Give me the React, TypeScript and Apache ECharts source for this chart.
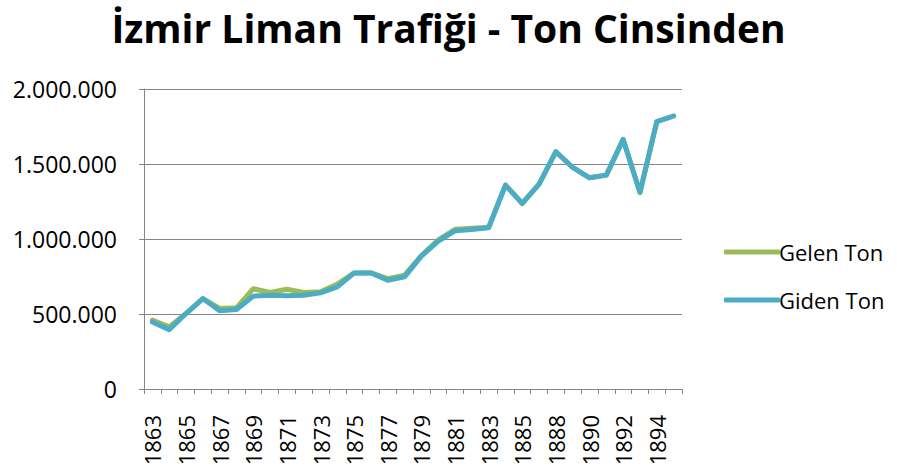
import React, { useEffect, useRef } from "react";
import * as echarts from "echarts";

const years: string[] = [
  "1863", "1864", "1865", "1866", "1867", "1868", "1869", "1870", "1871", "1872",
  "1873", "1874", "1875", "1876", "1877", "1878", "1879", "1880", "1881", "1882",
  "1883", "1884", "1885", "1886", "1888", "1889", "1890", "1891", "1892", "1893",
  "1894", "1895",
];

const gelenTon: number[] = [
  459000, 414000, 503000, 603000, 537000, 541000, 669000, 643000, 665000, 643000,
  648000, 699000, 774000, 774000, 736000, 759000, 890000, 995000, 1065000, 1072000,
  1078000, 1359000, 1237000, 1366000, 1582000, 1477000, 1408000, 1426000, 1664000, 1310000,
  1782000, 1820000,
];

const gidenTon: number[] = [
  447000, 396000, 503000, 603000, 521000, 530000, 619000, 625000, 621000, 625000,
  641000, 681000, 774000, 774000, 725000, 748000, 886000, 986000, 1055000, 1063000,
  1075000, 1359000, 1237000, 1366000, 1582000, 1477000, 1408000, 1426000, 1664000, 1310000,
  1782000, 1820000,
];

const yTicks = { min: 0, max: 2000000, interval: 500000 };

const fmt = (v: number) => String(Math.round(v)).replace(/\B(?=(\d{3})+(?!\d))/g, ".");

export default function App() {
  const ref = useRef<HTMLDivElement>(null);
  useEffect(() => {
    if (!ref.current) return;
    const chart = echarts.init(ref.current, undefined, { renderer: "svg" });
    const font = "Open Sans";
    const gray = "#868686";
    chart.setOption({
      animation: false,
      backgroundColor: "#ffffff",
      title: {
        text: "İzmir Liman Trafiği - Ton Cinsinden",
        left: "center",
        top: 3,
        padding: [5, 0, 5, 8],
        textStyle: { fontSize: 39, fontWeight: "bold", fontFamily: font, color: "#000" },
      },
      legend: {
        orient: "vertical",
        left: 719,
        top: 236,
        icon: "roundRect",
        itemWidth: 56,
        itemHeight: 5,
        itemGap: 26,
        textStyle: { fontSize: 22, fontFamily: font, color: "#000", padding: [0, 0, 0, -6] },
        data: ["Gelen Ton", "Giden Ton"],
      },
      grid: { left: 144, right: 215, top: 89, bottom: 84 },
      xAxis: {
        type: "category",
        data: years,
        boundaryGap: true,
        axisLine: { lineStyle: { color: gray, width: 1 } },
        axisTick: { show: true, length: 5, interval: 0, lineStyle: { color: gray } },
        axisLabel: {
          interval: 1,
          rotate: 90,
          margin: 26,
          fontSize: 22,
          fontFamily: font,
          color: "#000",
        },
        splitLine: { show: false },
      },
      yAxis: {
        type: "value",
        min: yTicks.min,
        max: yTicks.max,
        interval: yTicks.interval,
        axisLine: { show: true, lineStyle: { color: gray, width: 1 } },
        axisTick: { show: true, length: 5, lineStyle: { color: gray } },
        axisLabel: {
          margin: 27,
          fontSize: 23,
          fontFamily: font,
          color: "#000",
          formatter: (v: number) => fmt(v),
        },
        splitLine: { show: true, lineStyle: { color: gray, width: 1 } },
      },
      series: [
        {
          name: "Gelen Ton",
          type: "line",
          data: gelenTon,
          symbol: "none",
          color: "#9BBB59",
          lineStyle: { width: 5, color: "#9BBB59", join: "round", cap: "round" },
        },
        {
          name: "Giden Ton",
          type: "line",
          data: gidenTon,
          symbol: "none",
          color: "#4BACC6",
          lineStyle: { width: 5, color: "#4BACC6", join: "round", cap: "round" },
        },
      ],
    });
    return () => chart.dispose();
  }, []);
  return (
    <div
      ref={ref}
      style={{ position: "fixed", left: 0, top: 0, width: 897, height: 473, background: "#fff" }}
    />
  );
}
